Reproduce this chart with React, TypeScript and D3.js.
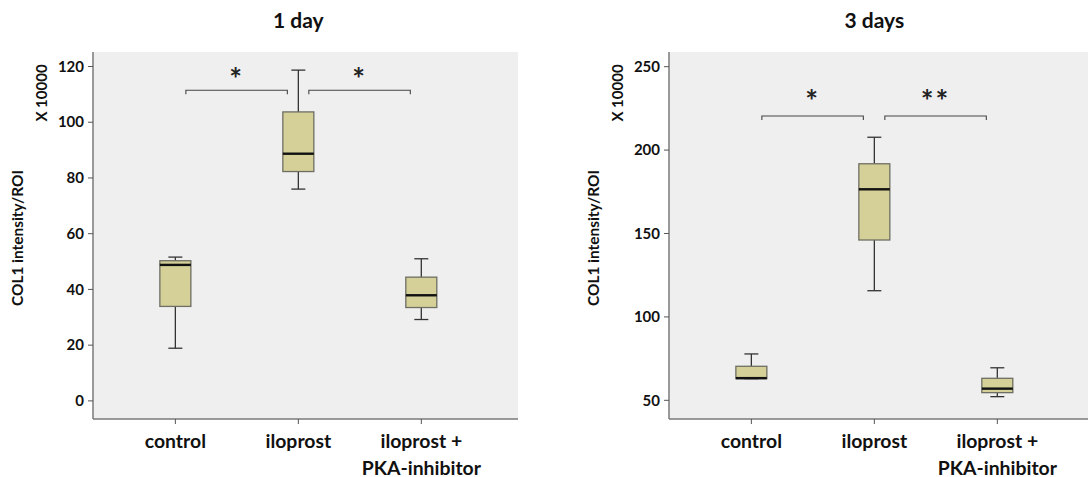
import React from "react";
import * as d3 from "d3";

const categories = ["control", "iloprost", "iloprost +|PKA-inhibitor"];

// 1 day
const day1Min = [18.9, 76, 29.2];
const day1Q1 = [33.9, 82.3, 33.5];
const day1Median = [48.8, 88.7, 37.9];
const day1Q3 = [50.3, 103.7, 44.4];
const day1Max = [51.6, 118.7, 51];
const day1Ticks = [0, 20, 40, 60, 80, 100, 120];

// 3 days
const day3Min = [63, 115.7, 52.2];
const day3Q1 = [63, 146.1, 54.6];
const day3Median = [63.3, 176.5, 57];
const day3Q3 = [70.4, 191.8, 63.2];
const day3Max = [77.8, 207.7, 69.5];
const day3Ticks = [50, 100, 150, 200, 250];

// significance brackets
const day1Sig = [
  { from: 0, to: 1, y: 111.5, label: "*" },
  { from: 1, to: 2, y: 111.5, label: "*" },
];
const day3Sig = [
  { from: 0, to: 1, y: 220.4, label: "*" },
  { from: 1, to: 2, y: 220.4, label: "**" },
];

const FONT = "Lato, 'Open Sans', sans-serif";
const W = 425;
const H = 367;

type PanelProps = {
  x: number;
  title: string;
  domain: [number, number];
  ticks: number[];
  mins: number[];
  q1: number[];
  med: number[];
  q3: number[];
  maxs: number[];
  sig: { from: number; to: number; y: number; label: string }[];
  starGap: number;
};

function Panel({ x, title, domain, ticks, mins, q1, med, q3, maxs, sig, starGap }: PanelProps) {
  const xs = d3.scalePoint<string>().domain(categories).range([0, W]).padding(0.728).align(0.46);
  const y = d3.scaleLinear().domain(domain).range([H, 0]);
  const boxW = 31;
  const capW = 14;
  return (
    <g transform={`translate(${x},52)`}>
      <text x={xs("iloprost")} y={-24} textAnchor="middle" fontSize={21} fontWeight="bold" fill="#111">
        {title}
      </text>
      <rect x={0} y={0} width={W} height={H} fill="#efefef" />
      <line x1={0} x2={0} y1={0} y2={H} stroke="#7a7a7a" strokeWidth={1.5} />
      <line x1={0} x2={W} y1={H} y2={H} stroke="#7a7a7a" strokeWidth={1.5} />
      {ticks.map((t) => (
        <g key={t} transform={`translate(0,${y(t)})`}>
          <line x1={-5} x2={0} stroke="#555" strokeWidth={1} />
          <text x={-9} dy="0.35em" textAnchor="end" fontSize={15} fontWeight="bold" fill="#111">
            {t}
          </text>
        </g>
      ))}
      <text
        transform={`translate(-51,41) rotate(-90)`}
        textAnchor="middle"
        dy="0.35em"
        fontSize={15}
        fontWeight="bold"
        fill="#111"
      >
        X 10000
      </text>
      <text
        transform={`translate(-75,186) rotate(-90)`}
        textAnchor="middle"
        dy="0.35em"
        fontSize={15.4}
        fontWeight="bold"
        fill="#111"
      >
        COL1 intensity/ROI
      </text>
      {categories.map((c) => {
        const lines = c.split("|");
        return (
          <g key={c} transform={`translate(${xs(c)},${H})`}>
            <line y1={0} y2={5} stroke="#555" strokeWidth={1} />
            {lines.map((l, i) => (
              <text key={i} y={29 + i * 26.5} textAnchor="middle" fontSize={19.4} fontWeight="bold" fill="#111">
                {l}
              </text>
            ))}
          </g>
        );
      })}
      {categories.map((c, i) => {
        const cx = xs(c) as number;
        return (
          <g key={c}>
            <line x1={cx} x2={cx} y1={y(maxs[i])} y2={y(q3[i])} stroke="#333" strokeWidth={1.3} />
            <line x1={cx} x2={cx} y1={y(q1[i])} y2={y(mins[i])} stroke="#333" strokeWidth={1.3} />
            <line x1={cx - capW / 2} x2={cx + capW / 2} y1={y(maxs[i])} y2={y(maxs[i])} stroke="#333" strokeWidth={1.3} />
            <line x1={cx - capW / 2} x2={cx + capW / 2} y1={y(mins[i])} y2={y(mins[i])} stroke="#333" strokeWidth={1.3} />
            <rect
              x={cx - boxW / 2}
              y={y(q3[i])}
              width={boxW}
              height={Math.max(0, y(q1[i]) - y(q3[i]))}
              fill="#d4d097"
              stroke="#6e6e64"
              strokeWidth={1.3}
            />
            <line x1={cx - boxW / 2} x2={cx + boxW / 2} y1={y(med[i])} y2={y(med[i])} stroke="#111" strokeWidth={2.4} />
          </g>
        );
      })}
      {sig.map((s, i) => {
        const x1 = (xs(categories[s.from]) as number) + 10.5;
        const x2 = (xs(categories[s.to]) as number) - 11;
        const yy = y(s.y);
        return (
          <g key={i}>
            <path d={`M${x1},${yy + 4}V${yy}H${x2}V${yy + 4}`} fill="none" stroke="#444" strokeWidth={1.1} />
            <text
              x={(x1 + x2) / 2}
              y={yy - starGap + 15}
              textAnchor="middle"
              fontSize={30}
              fontWeight="bold"
              letterSpacing={2}
              fill="#222"
            >
              {s.label}
            </text>
          </g>
        );
      })}
    </g>
  );
}

export default function App() {
  return (
    <svg
      width={1088}
      height={477}
      style={{ position: "absolute", left: 0, top: 0, background: "#fff" }}
      fontFamily={FONT}
    >
      <Panel
        x={93}
        title="1 day"
        domain={[-6.5, 125.2]}
        ticks={day1Ticks}
        mins={day1Min}
        q1={day1Q1}
        med={day1Median}
        q3={day1Q3}
        maxs={day1Max}
        sig={day1Sig}
        starGap={15}
      />
      <Panel
        x={669}
        title="3 days"
        domain={[38.8, 258.8]}
        ticks={day3Ticks}
        mins={day3Min}
        q1={day3Q1}
        med={day3Median}
        q3={day3Q3}
        maxs={day3Max}
        sig={day3Sig}
        starGap={19}
      />
    </svg>
  );
}
